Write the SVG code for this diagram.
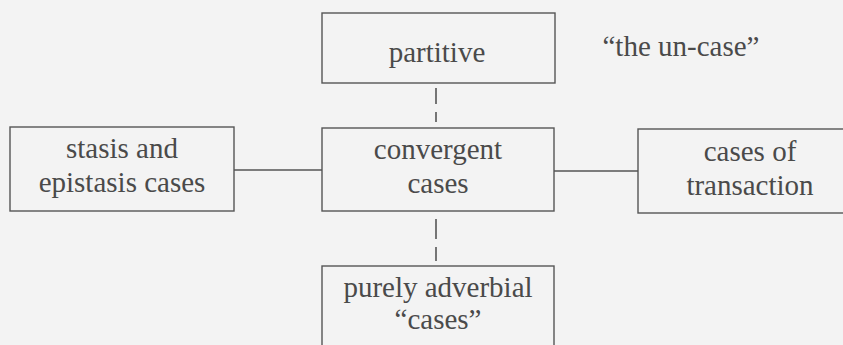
<svg xmlns="http://www.w3.org/2000/svg" width="843" height="345" viewBox="0 0 843 345">
<style>
.bg{fill:#f3f3f3}
.box{fill:none;stroke:#555;stroke-width:1.4}
.t{font-family:'Liberation Serif','Times New Roman',serif;font-size:29px;fill:#4a4a4a;text-anchor:middle}
.ln{stroke:#555;stroke-width:1.4;fill:none}
.dash{stroke:#555;stroke-width:1.6;fill:none}
</style>
<rect class="bg" x="0" y="0" width="843" height="345"/>
<g id="connectors">
<line class="ln" x1="234" y1="170" x2="322" y2="170"/>
<line class="ln" x1="554" y1="171" x2="638" y2="171"/>
<line class="dash" x1="436" y1="88" x2="436" y2="104"/>
<line class="dash" x1="436" y1="112" x2="436" y2="122"/>
<line class="dash" x1="436" y1="219" x2="436" y2="239"/>
<line class="dash" x1="436" y1="247" x2="436" y2="261"/>
</g>
<g id="partitive">
<rect class="box" x="322" y="13" width="233" height="70"/>
<text class="t" x="437" y="62">partitive</text>
</g>
<g id="uncase">
<text class="t" x="681" y="56">“the un-case”</text>
</g>
<g id="stasis">
<rect class="box" x="10" y="127" width="224" height="84"/>
<text class="t" x="122" y="158">stasis and</text>
<text class="t" x="122" y="192">epistasis cases</text>
</g>
<g id="convergent">
<rect class="box" x="322" y="128" width="232" height="83"/>
<text class="t" x="438" y="159">convergent</text>
<text class="t" x="438" y="193">cases</text>
</g>
<g id="transaction">
<rect class="box" x="638" y="129" width="215" height="84"/>
<text class="t" x="750" y="161">cases of</text>
<text class="t" x="750" y="195">transaction</text>
</g>
<g id="adverbial">
<rect class="box" x="322" y="266" width="232" height="90"/>
<text class="t" x="438" y="297">purely adverbial</text>
<text class="t" x="438" y="329">“cases”</text>
</g>
</svg>
